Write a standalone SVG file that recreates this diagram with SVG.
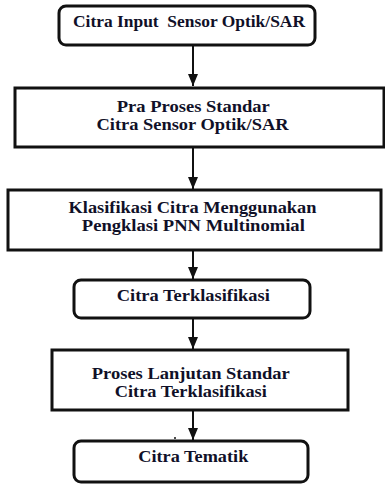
<svg xmlns="http://www.w3.org/2000/svg" width="385" height="484" viewBox="0 0 385 484">
<defs>
<style>
.box{fill:#fff;stroke:#111;stroke-width:3}
.t{font-family:"Liberation Serif","Times New Roman",serif;font-weight:bold;font-size:17px;fill:#101028;text-anchor:middle}
.c{stroke:#111;stroke-width:2;fill:none}
</style>
<marker id="ah" markerWidth="12" markerHeight="10" refX="12" refY="5" orient="auto" markerUnits="userSpaceOnUse">
<path d="M0,0 L12,5 L0,10 Z" fill="#111"/>
</marker>
</defs>
<rect width="385" height="484" fill="#fff"/>
<g id="connectors">
<line class="c" x1="193" y1="45" x2="193" y2="86" marker-end="url(#ah)"/>
<line class="c" x1="193" y1="147" x2="193" y2="189" marker-end="url(#ah)"/>
<line class="c" x1="193" y1="250" x2="193" y2="279" marker-end="url(#ah)"/>
<line class="c" x1="193" y1="318" x2="193" y2="349" marker-end="url(#ah)"/>
<line class="c" x1="193" y1="410" x2="193" y2="440" marker-end="url(#ah)"/>
<circle cx="175" cy="438" r="1" fill="#111"/>
</g>
<g id="n1">
<rect class="box" x="59" y="6" width="256" height="39" rx="7"/>
<text class="t" x="189" y="27" xml:space="preserve" textLength="232" lengthAdjust="spacingAndGlyphs">Citra Input  Sensor Optik/SAR</text>
</g>
<g id="n2">
<rect class="box" x="15" y="88" width="369" height="59"/>
<text class="t" x="193.3" y="112" textLength="153" lengthAdjust="spacingAndGlyphs">Pra Proses Standar</text>
<text class="t" x="192.5" y="130" textLength="192" lengthAdjust="spacingAndGlyphs">Citra Sensor Optik/SAR</text>
</g>
<g id="n3">
<rect class="box" x="8" y="190" width="373" height="60"/>
<text class="t" x="192.5" y="213" textLength="248" lengthAdjust="spacingAndGlyphs">Klasifikasi Citra Menggunakan</text>
<text class="t" x="193.3" y="231" textLength="223" lengthAdjust="spacingAndGlyphs">Pengklasi PNN Multinomial</text>
</g>
<g id="n4">
<rect class="box" x="74" y="280" width="236" height="38" rx="7"/>
<text class="t" x="193.3" y="301" textLength="153" lengthAdjust="spacingAndGlyphs">Citra Terklasifikasi</text>
</g>
<g id="n5">
<rect class="box" x="52" y="350" width="296" height="60"/>
<text class="t" x="190.8" y="379" textLength="198" lengthAdjust="spacingAndGlyphs">Proses Lanjutan Standar</text>
<text class="t" x="190.8" y="397" textLength="152" lengthAdjust="spacingAndGlyphs">Citra Terklasifikasi</text>
</g>
<g id="n6">
<rect class="box" x="74" y="441" width="234" height="41" rx="7"/>
<text class="t" x="193.3" y="462" textLength="110" lengthAdjust="spacingAndGlyphs">Citra Tematik</text>
</g>
</svg>
